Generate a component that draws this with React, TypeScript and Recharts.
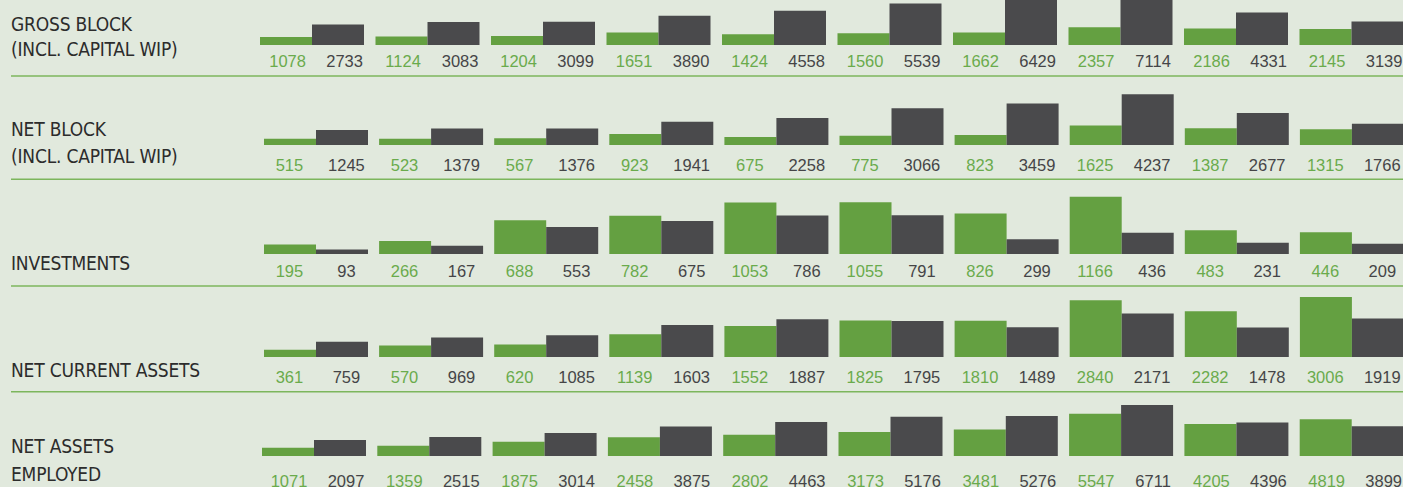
import React from 'react';
import { BarChart, Bar, XAxis, YAxis, LabelList } from 'recharts';

// ---- data ----
const periods = ['P1', 'P2', 'P3', 'P4', 'P5', 'P6', 'P7', 'P8', 'P9', 'P10'];

const grossBlockA = [1078, 1124, 1204, 1651, 1424, 1560, 1662, 2357, 2186, 2145];
const grossBlockB = [2733, 3083, 3099, 3890, 4558, 5539, 6429, 7114, 4331, 3139];

const netBlockA = [515, 523, 567, 923, 675, 775, 823, 1625, 1387, 1315];
const netBlockB = [1245, 1379, 1376, 1941, 2258, 3066, 3459, 4237, 2677, 1766];

const investmentsA = [195, 266, 688, 782, 1053, 1055, 826, 1166, 483, 446];
const investmentsB = [93, 167, 553, 675, 786, 791, 299, 436, 231, 209];

const netCurrentAssetsA = [361, 570, 620, 1139, 1552, 1825, 1810, 2840, 2282, 3006];
const netCurrentAssetsB = [759, 969, 1085, 1603, 1887, 1795, 1489, 2171, 1478, 1919];

const netAssetsEmployedA = [1071, 1359, 1875, 2458, 2802, 3173, 3481, 5547, 4205, 4819];
const netAssetsEmployedB = [2097, 2515, 3014, 3875, 4463, 5176, 5276, 6711, 4396, 3899];

const rowTitles = [
  ['GROSS BLOCK', '(INCL. CAPITAL WIP)'],
  ['NET BLOCK', '(INCL. CAPITAL WIP)'],
  ['INVESTMENTS'],
  ['NET CURRENT ASSETS'],
  ['NET ASSETS', 'EMPLOYED'],
];

const seriesA = [grossBlockA, netBlockA, investmentsA, netCurrentAssetsA, netAssetsEmployedA];
const seriesB = [grossBlockB, netBlockB, investmentsB, netCurrentAssetsB, netAssetsEmployedB];

// ---- layout / style ----
const BG = '#e1e9dd';
const GREEN = '#64a041';
const DARK = '#4a4a4c';
const GREEN_TEXT = '#6aab4c';
const DARK_TEXT = '#454547';
const LINE = '#7cb65c';
const TITLE = '#2c2c2c';

const layouts = [
  { top: -12, left: 254.25, width: 1155, plot: 57, yMax: 7600, labelBase: 66.7, dxA: 1.6, dxB: 6.6, titleY: [31, 56], lineY: 76 },
  { top: 85, left: 258.45, width: 1151, plot: 60, yMax: 5000, labelBase: 170.7, dxA: -0.6, dxB: 4.4, titleY: [136, 163], lineY: 179.3 },
  { top: 190, left: 258.45, width: 1151, plot: 64, yMax: 1306, labelBase: 276.7, dxA: -0.6, dxB: 4.4, titleY: [270], lineY: 286 },
  { top: 292, left: 258.45, width: 1151, plot: 65, yMax: 3250, labelBase: 383.3, dxA: -0.6, dxB: 4.4, titleY: [376.5], lineY: 391.7 },
  { top: 395, left: 256.35, width: 1153, plot: 61, yMax: 8026, labelBase: 487.3, dxA: 1.0, dxB: 6.0, titleY: [452.5, 480.5], lineY: -100 },
];

const makeLabel = (color: string, dx: number, baseline: number) => (props: any) => {
  const vb = props.viewBox || props;
  const x = Number(vb.x ?? props.x) + Number(vb.width ?? props.width) / 2 + dx;
  return (
    <text
      x={x}
      y={baseline}
      textAnchor="middle"
      fill={color}
      fontSize={16.5}
      fontFamily="'Liberation Sans', Arial, sans-serif"
    >
      {props.value}
    </text>
  );
};

function Row({ idx }: { idx: number }) {
  const L = layouts[idx];
  const data = periods.map((p, i) => ({ period: p, a: seriesA[idx][i], b: seriesB[idx][i] }));
  const chartH = L.plot + 40;
  const base = L.labelBase - L.top;
  return (
    <div style={{ position: 'absolute', left: L.left, top: L.top, width: L.width, height: chartH }}>
      <BarChart
        width={L.width}
        height={chartH}
        data={data}
        margin={{ top: 0, right: 0, left: 0, bottom: 40 }}
        barGap={0}
        barSize={52}
      >
        <XAxis dataKey="period" hide />
        <YAxis hide domain={[0, L.yMax]} allowDataOverflow />
        <Bar dataKey="a" fill={GREEN} isAnimationActive={false}>
          <LabelList dataKey="a" content={makeLabel(GREEN_TEXT, L.dxA, base)} />
        </Bar>
        <Bar dataKey="b" fill={DARK} isAnimationActive={false}>
          <LabelList dataKey="b" content={makeLabel(DARK_TEXT, L.dxB, base)} />
        </Bar>
      </BarChart>
    </div>
  );
}

export default function App() {
  return (
    <div
      style={{
        position: 'fixed',
        left: 0,
        top: 0,
        width: 1403,
        height: 487,
        overflow: 'hidden',
        background: BG,
      }}
    >
      <svg width={1403} height={487} style={{ position: 'absolute', left: 0, top: 0 }}>
        {layouts.map((L, i) => (
          <g key={i}>
            <line x1={11} x2={1403} y1={L.lineY} y2={L.lineY} stroke={LINE} strokeWidth={1.6} />
            {rowTitles[i].map((t, j) => (
              <text
                key={j}
                x={11}
                y={L.titleY[j]}
                fill={TITLE}
                fontSize={19}
                letterSpacing={-0.2}
                fontFamily="'DejaVu Sans Condensed', 'DejaVu Sans', sans-serif"
                style={{ fontStretch: 'condensed' }}
              >
                {t}
              </text>
            ))}
          </g>
        ))}
      </svg>
      {layouts.map((_, i) => (
        <Row key={i} idx={i} />
      ))}
    </div>
  );
}
